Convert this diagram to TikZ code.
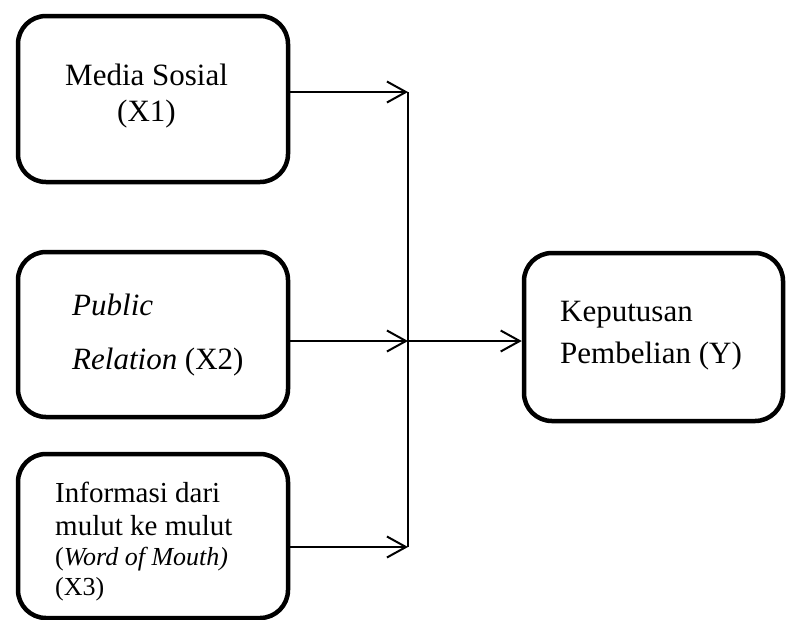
\documentclass[tikz,border=0pt]{standalone}
\usepackage{fontspec}
\setmainfont{Liberation Serif}
\usetikzlibrary{arrows.meta}
\begin{document}
\begin{tikzpicture}[x=1pt,y=-1pt,
  box/.style={draw, line width=4.5pt, rounded corners=28pt, inner sep=0pt},
  lbl/.style={anchor=base west, inner sep=0pt, font=\fontsize{31}{36}\selectfont},
  lbls/.style={anchor=base west, inner sep=0pt, font=\fontsize{29}{34}\selectfont},
  lblt/.style={anchor=base west, inner sep=0pt, font=\fontsize{26}{30}\selectfont},
  arr/.style={line width=2pt, -{Straight Barb[length=19pt,width=21pt,line width=2pt]}},
  bus/.style={line width=2pt}]
\useasboundingbox (0,0) rectangle (786,619);
% boxes
\node[box, minimum width=270pt, minimum height=166pt] (x1) at (153,99) {};
\node[box, minimum width=270pt, minimum height=165pt] (x2) at (153,334.5) {};
\node[box, minimum width=270pt, minimum height=164pt] (x3) at (153,536) {};
\node[box, minimum width=259pt, minimum height=168pt] (y) at (653.5,337) {};
% texts
\node[lbl] (t1a) at (65,85) {Media Sosial};
\node[lbl] (t1b) at (117,121) {(X1)};
\node[lbl] (t2a) at (72,315) {\itshape Public};
\node[lbl] (t2b) at (72,369) {\textit{Relation} (X2)};
\node[lbls] (t3a) at (55,502) {Informasi dari};
\node[lbls] (t3b) at (55,535) {mulut ke mulut};
\node[lblt] (t3c) at (55,565) {(\textit{Word of Mouth)}};
\node[lblt] (t3d) at (55,595) {(X3)};
\node[lbl] (tya) at (560,321) {Keputusan};
\node[lbl] (tyb) at (560,363) {Pembelian (Y)};
% bus
\coordinate (j1) at (408,92);
\coordinate (j2) at (408,341);
\coordinate (j3) at (408,547);
\draw[bus] (j1) -- (j3);
% connectors
\draw[arr] (x1.east |- j1) -- (j1);
\draw[arr] (x2.east |- j2) -- (j2);
\draw[arr] (x3.east |- j3) -- (j3);
\draw[arr] (j2) -- (y.west |- j2);
\end{tikzpicture}
\end{document}
